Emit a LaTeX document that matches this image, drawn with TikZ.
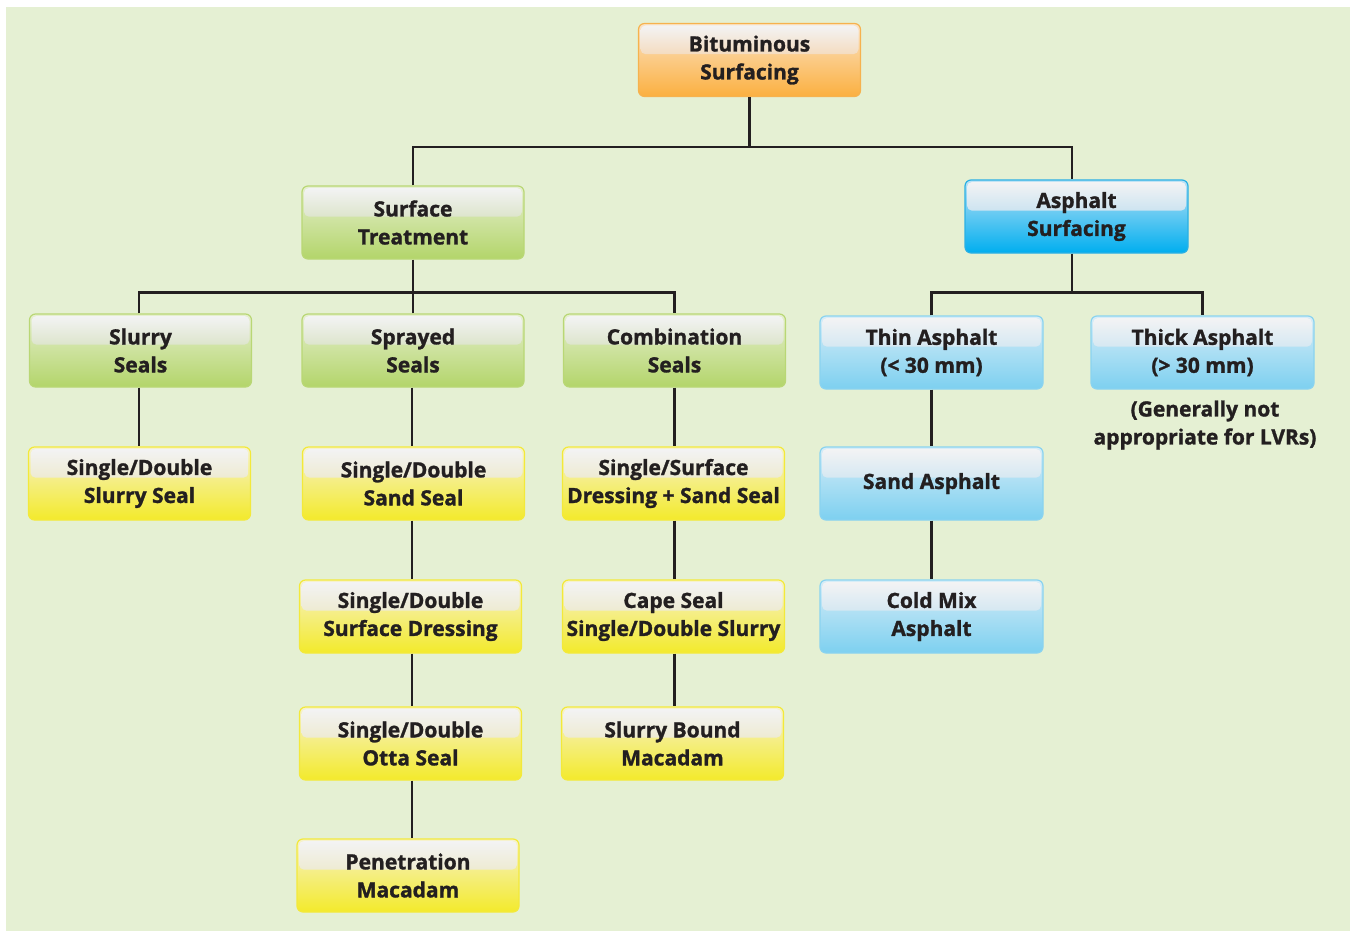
\documentclass[tikz,border=0pt]{standalone}
\usepackage{fontspec}
\setmainfont{Open Sans}[BoldFeatures={FakeBold=1.3}]
\usetikzlibrary{calc}

\definecolor{bgGreen}{HTML}{E5F0D3}
\definecolor{ink}{HTML}{231F20}
\definecolor{hiTop}{HTML}{F3F3F4}
% orange
\definecolor{orBorder}{HTML}{F6B24E}
\definecolor{orTop}{HTML}{FBE4C8}
\definecolor{orBot}{HTML}{FBB040}
\definecolor{orHi}{HTML}{F4DCC0}
% green
\definecolor{grBorder}{HTML}{B9D775}
\definecolor{grTop}{HTML}{E6EFD0}
\definecolor{grBot}{HTML}{B3D56A}
\definecolor{grHi}{HTML}{DDE5CC}
% strong blue
\definecolor{blBorder}{HTML}{2BB0E4}
\definecolor{blTop}{HTML}{BDE2F5}
\definecolor{blBot}{HTML}{00AEEF}
\definecolor{blHi}{HTML}{CDE4F1}
% light blue
\definecolor{lbBorder}{HTML}{8AD3F0}
\definecolor{lbTop}{HTML}{D8EDF7}
\definecolor{lbBot}{HTML}{7DD0F0}
\definecolor{lbHi}{HTML}{D5E8F2}
% yellow
\definecolor{yeBorder}{HTML}{F3E93A}
\definecolor{yeTop}{HTML}{F6F2CF}
\definecolor{yeBot}{HTML}{F3EA2B}
\definecolor{yeHi}{HTML}{EEEBD2}

\tikzset{
  gbox/.style={rounded corners=6pt, minimum width=222pt, minimum height=73pt,
    inner sep=0pt, align=center, text=ink, line width=1.2pt,
    font=\bfseries\fontsize{21}{28}\selectfont},
  glossy/.style n args={4}{gbox, draw=#1, path picture={
      \shade[top color=#2, bottom color=#3]
        (path picture bounding box.north west) rectangle (path picture bounding box.south east);
      \shade[top color=hiTop, bottom color=#4, rounded corners=5pt]
        ($(path picture bounding box.north west)+(2,2)$) rectangle
        ($(path picture bounding box.north east)!0.42!(path picture bounding box.south east)+(-2,0)$);
    }},
  orangebox/.style={glossy={orBorder}{orTop}{orBot}{orHi}},
  greenbox/.style={glossy={grBorder}{grTop}{grBot}{grHi}},
  bluebox/.style={glossy={blBorder}{blTop}{blBot}{blHi}},
  lightbox/.style={glossy={lbBorder}{lbTop}{lbBot}{lbHi}},
  yellowbox/.style={glossy={yeBorder}{yeTop}{yeBot}{yeHi}},
  note/.style={align=center, text=ink, font=\bfseries\fontsize{21}{28}\selectfont},
  conn/.style={draw=ink, line width=2.6pt, line join=miter}
}

\begin{document}
\begin{tikzpicture}[x=1pt, y=-1pt]
  \useasboundingbox (0,0) rectangle (1350,931);
  \fill[white] (0,0) rectangle (1350,931);
  \fill[bgGreen] (6,7) rectangle (1350,931);

  % top level
  \node[orangebox] (bit) at (749.5,60) {Bituminous\\Surfacing};

  % second level
  \node[greenbox] (st) at (413,222.5) {Surface\\Treatment};
  \node[bluebox, minimum width=223pt] (as) at (1076.5,216.5) {Asphalt\\Surfacing};

  % seal types
  \node[greenbox] (slurry) at (140.5,350.5) {Slurry\\Seals};
  \node[greenbox] (sprayed) at (413,350.5) {Sprayed\\Seals};
  \node[greenbox] (comb) at (674.5,350.5) {Combination\\Seals};

  % asphalt types
  \node[lightbox, minimum width=223pt] (thin) at (931.5,352.5) {Thin Asphalt\\(< 30 mm)};
  \node[lightbox, minimum width=223pt] (thick) at (1202.5,352.5) {Thick Asphalt\\(> 30 mm)};
  \node[note] (thicknote) at (1205,425) {(Generally not\\appropriate for LVRs)};

  % third row
  \node[yellowbox] (ssseal) at (139.5,483.5) {Single/Double\\Slurry Seal};
  \node[yellowbox] (sandseal) at (413.5,483.5) {Single/Double\\Sand Seal};
  \node[yellowbox] (dsand) at (673.5,483.5) {Single/Surface\\Dressing + Sand Seal};
  \node[lightbox, minimum width=223pt] (sandasph) at (931.5,483.5) {Sand Asphalt};

  % fourth row
  \node[yellowbox] (sdress) at (410.5,616.5) {Single/Double\\Surface Dressing};
  \node[yellowbox] (cape) at (673.5,616.5) {Cape Seal\\Single/Double Slurry};
  \node[lightbox, minimum width=223pt] (cold) at (931.5,616.5) {Cold Mix\\Asphalt};

  % fifth row
  \node[yellowbox] (otta) at (410.5,743.5) {Single/Double\\Otta Seal};
  \node[yellowbox] (sbm) at (672.5,743.5) {Slurry Bound\\Macadam};

  % sixth row
  \node[yellowbox] (pen) at (408,875.5) {Penetration\\Macadam};

  % tree connectors
  \draw[conn] (bit.south) -- ++(0,50) coordinate (j1);
  \draw[conn] (st.north) |- (j1) -| ([xshift=-4.5pt]as.north);

  \draw[conn] (st.south) -- ++(0,33) coordinate (j2);
  \draw[conn] ([xshift=-1.5pt]slurry.north) |- (j2) -| (comb.north);
  \draw[conn] (sprayed.north) -- (sprayed.north |- j2);

  \draw[conn] ([xshift=-4.5pt]as.south) -- ++(0,39) coordinate (j3);
  \draw[conn] (thin.north) |- (j3) -| (thick.north);

  % vertical chains
  \draw[conn] ([xshift=-1.5pt]slurry.south) -- ([xshift=-1.5pt]slurry.south |- ssseal.north);
  \draw[conn] ([xshift=-1pt]sprayed.south) -- ([xshift=-1pt]sprayed.south |- sandseal.north);
  \draw[conn] ([xshift=-1pt]sprayed.south |- sandseal.south) -- ([xshift=-1pt]sprayed.south |- sdress.north);
  \draw[conn] ([xshift=-1pt]sprayed.south |- sdress.south) -- ([xshift=-1pt]sprayed.south |- otta.north);
  \draw[conn] ([xshift=-1pt]sprayed.south |- otta.south) -- ([xshift=-1pt]sprayed.south |- pen.north);

  \draw[conn] (comb.south) -- (comb.south |- dsand.north);
  \draw[conn] (comb.south |- dsand.south) -- (comb.south |- cape.north);
  \draw[conn] (comb.south |- cape.south) -- (comb.south |- sbm.north);

  \draw[conn] (thin.south) -- (thin.south |- sandasph.north);
  \draw[conn] (thin.south |- sandasph.south) -- (thin.south |- cold.north);
\end{tikzpicture}
\end{document}
